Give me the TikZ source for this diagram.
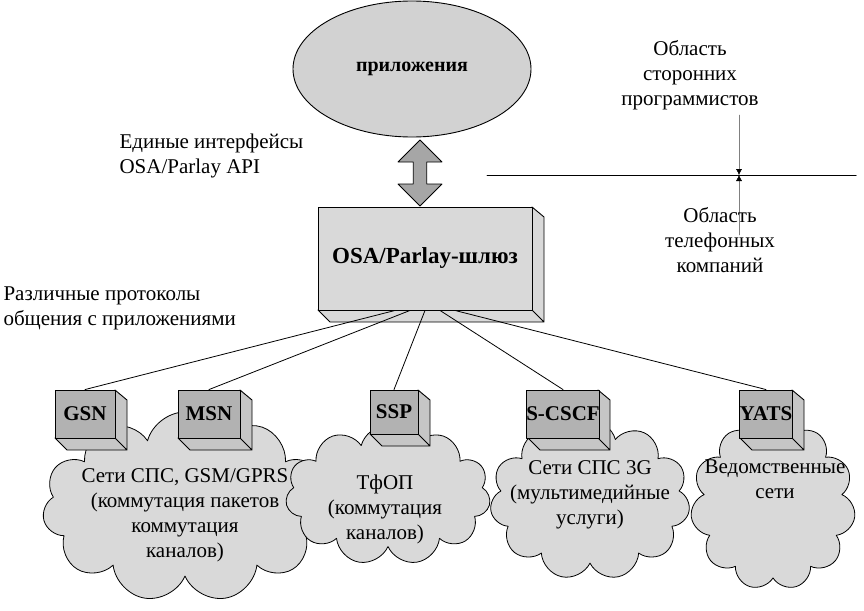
\documentclass[tikz,border=0pt]{standalone}
\usepackage{fontspec}
\setmainfont{Liberation Serif}
\usetikzlibrary{shapes.symbols,shapes.arrows,shapes.geometric,arrows.meta,positioning}

\tikzset{
 lbl/.style={font=\fontsize{21pt}{25pt}\selectfont,align=center},
 cloudy/.style={cloud,cloud puffs=11,cloud ignores aspect,draw=black,line width=0.8pt,fill=gray!30,inner sep=0pt},
 node3d/.style={draw=black,fill=gray!60,line width=0.9pt,font=\bfseries\fontsize{21pt}{22pt}\selectfont,inner sep=0pt}
}
% box with depth: front rectangle + top-less side faces
\newcommand{\boxthreed}[6]{% name, x1, y1, x2, y2, label
 \fill[#6] (#2,#5) -- (#2+12,#5+12) -- (#4+12,#5+12) -- (#4+12,#3+10) -- (#4,#3) -- (#4,#5) -- cycle;
 \draw[line width=0.9pt] (#2,#5) -- (#2+12,#5+12) -- (#4+12,#5+12) -- (#4+12,#3+10) -- (#4,#3)
  (#4,#5) -- (#4+12,#5+12);
}

\begin{document}
\begin{tikzpicture}[x=1pt,y=-1pt,line cap=round,line join=round]
\useasboundingbox (0,0) rectangle (864,610);

% applications
\node[ellipse,draw,fill=gray!35,line width=0.9pt,minimum width=238,minimum height=136,
 font=\bfseries\fontsize{20pt}{22pt}\selectfont] (app) at (412,69) {приложения};

% gateway
\boxthreed{gw}{318}{207}{532}{310}{fill=gray!30}
\node[draw,fill=gray!30,line width=0.9pt,minimum width=214,minimum height=103,inner sep=0pt,
 font=\bfseries\fontsize{23pt}{24pt}\selectfont] (gw) at (425,258.5) {OSA/Parlay-шлюз};
\node[double arrow,draw,line width=0.8pt,fill=gray!70,rotate=90,minimum height=66,minimum width=44,
 double arrow head extend=10,inner sep=4pt] (api) at (420,173) {};

\node[lbl,align=left,anchor=north west] (apitxt) at (116,130) {Единые интерфейсы\\OSA/Parlay API};
\node[lbl,align=left,anchor=north west] (prottxt) at (0,283) {Различные протоколы\\общения с приложениями};

% border of areas
\coordinate (bl) at (487,175);
\coordinate (br) at (856,175);
\draw[line width=1pt] (bl) -- (br);
\coordinate (up) at (739,115);
\coordinate (dn) at (739,235);
\coordinate (mid) at (739,175);
\draw[gray,thin,-{Latex[black,length=6pt,width=6pt]}] (up) -- (mid);
\draw[gray,thin,-{Latex[black,length=6pt,width=6pt]}] (dn) -- (mid);
\node[lbl] (third) at (690,75) {Область\\сторонних\\программистов};
\node[lbl] (telco) at (720,240) {Область\\телефонных\\компаний};

% networks
\node[cloudy,minimum width=285,minimum height=190] (c1) at (185,507) {};
\node[cloudy,minimum width=205,minimum height=140] (c2) at (388,495) {};
\node[cloudy,minimum width=200,minimum height=160] (c3) at (590,500) {};
\node[cloudy,minimum width=165,minimum height=170] (c4) at (773,505) {};
\node[lbl] at (185,515) {Сети СПС, GSM/GPRS\\(коммутация пакетов\\коммутация\\каналов)};
\node[lbl] at (385,509) {ТфОП\\(коммутация\\каналов)};
\node[lbl] at (590,495) {Сети СПС 3G\\(мультимедийные\\услуги)};
\node[lbl] at (775,479) {Ведомственные\\сети};

% network nodes
\boxthreed{b1}{55}{390}{115}{438}{fill=gray!45}
\node[node3d,minimum width=60,minimum height=48] (gsn) at (85,414) {GSN};
\boxthreed{b2}{178}{390}{240}{438}{fill=gray!45}
\node[node3d,minimum width=62,minimum height=48] (msn) at (209,414) {MSN};
\boxthreed{b3}{370}{390}{418}{434}{fill=gray!45}
\node[node3d,minimum width=48,minimum height=44] (ssp) at (394,412) {SSP};
\boxthreed{b4}{528}{390}{598}{438}{fill=gray!45}
\node[node3d,minimum width=70,minimum height=48] (cscf) at (563,414) {S-CSCF};
\boxthreed{b5}{740}{390}{792}{438}{fill=gray!45}
\node[node3d,minimum width=52,minimum height=48] (yats) at (766,414) {YATS};

\foreach \n/\dx in {gsn/-30,msn/-15,ssp/0,cscf/15,yats/30}
 \draw[line width=0.8pt] ([xshift=\dx]gw.south) -- (\n.north);
\end{tikzpicture}
\end{document}
